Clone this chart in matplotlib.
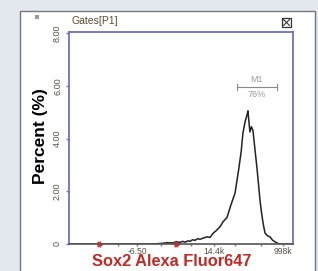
import numpy as np
import matplotlib.pyplot as plt
from matplotlib.patches import Rectangle

# histogram (channel 0-1024 on a biexponential display axis), percent of events
channel = [0, 380, 420, 450, 475, 490, 507, 520, 530, 545, 553, 565, 576, 588, 599,
           612, 631, 645, 658, 672, 690, 705, 722, 741, 759, 777, 787, 795, 805,
           814, 818, 823, 827, 834, 841, 850, 859, 866, 873, 880, 887, 896, 903,
           910, 919, 930, 942, 955, 965, 1024]
percent = [0, 0, 0.02, 0.05, 0.04, 0.09, 0.06, 0.1, 0.07, 0.12, 0.1, 0.16, 0.14, 0.2, 0.18,
           0.22, 0.27, 0.25, 0.4, 0.5, 0.65, 0.85, 1.0, 1.5, 1.93, 2.9, 3.5, 4.2, 4.64,
           4.9, 5.05, 4.6, 4.25, 4.45, 4.3, 3.6, 2.9, 2.3, 1.67, 1.2, 0.8, 0.42, 0.35,
           0.3, 0.27, 0.15, 0.08, 0.02, 0, 0]

xtick_pos = [311, 663, 980]
xtick_labels = ['-6.50', '14.4k', '998k']
ytick_pos = [0, 2, 4, 6, 8]
ytick_labels = ['0', '2.00', '4.00', '6.00', '8.00']
gate_marks = [142, 494]          # red markers on x axis
m1_range = (768, 950)            # M1 marker bar
m1_label = 'M1'
m1_pct = '76%'

fig = plt.figure(figsize=(3.18, 2.71), dpi=100)
fig.patch.set_facecolor('#e3e8ee')

# white panel
fig.patches.append(Rectangle((20 / 318, -0.1), 295 / 318, 1 - 11 / 271 + 0.1,
                             transform=fig.transFigure, facecolor='white',
                             edgecolor='#777777', lw=1.0, zorder=-5))
fig.patches.append(Rectangle((35 / 318, 1 - 19 / 271), 4 / 318, 4 / 271,
                             transform=fig.transFigure, facecolor='#999999', lw=0))
# close box
fig.patches.append(Rectangle((282 / 318, 1 - 27 / 271), 9 / 318, 9 / 271,
                             transform=fig.transFigure, facecolor='white',
                             edgecolor='#333333', lw=0.9))
fig.lines.append(plt.Line2D([283.5 / 318, 289.5 / 318], [1 - 25.5 / 271, 1 - 19.5 / 271],
                            transform=fig.transFigure, color='#333333', lw=0.8))
fig.lines.append(plt.Line2D([283.5 / 318, 289.5 / 318], [1 - 19.5 / 271, 1 - 25.5 / 271],
                            transform=fig.transFigure, color='#333333', lw=0.8))

ax = fig.add_axes([69 / 318, 1 - 244 / 271, 224 / 318, 212 / 271])
ax.set_zorder(2)
ax.set_facecolor('white')
ax.plot(channel, percent, color='#222222', lw=1.1)
ax.set_xlim(0, 1024)
ax.set_ylim(0, 8.04)

blue = '#6f6fc4'
for s in ['left', 'top', 'right']:
    ax.spines[s].set_color(blue)
    ax.spines[s].set_linewidth(1.3)
ax.spines['bottom'].set_color('#555555')
ax.spines['bottom'].set_linewidth(1.2)

tick_color = '#555544'
ax.set_yticks(ytick_pos)
ax.set_yticklabels(ytick_labels, rotation=90, va='center', fontsize=6.5,
                   family='Liberation Sans')
ax.set_xticks(xtick_pos)
ax.set_xticklabels(xtick_labels, fontsize=6.2, family='Liberation Sans')
ax.tick_params(axis='both', colors=blue, length=2, width=1, pad=1.5)
ax.tick_params(axis='x', labelcolor=tick_color, length=1.5, pad=0.6)
ax.tick_params(axis='y', labelcolor=tick_color, pad=3)
ax.set_xticks([224, 420, 560, 760, 880], minor=True)
ax.tick_params(axis='x', which='minor', colors=blue, length=1.5, width=1)

ax.plot(gate_marks, [0, 0], ls='none', marker='>', ms=3.5, color='#e03030', clip_on=False)
ax.plot(gate_marks, [0, 0], ls='none', marker='|', ms=5, mew=1, color='#e03030', clip_on=False)

# M1 marker
ax.plot(m1_range, [5.95, 5.95], color='#888888', lw=0.8)
ax.plot([m1_range[0]] * 2, [5.85, 6.05], color='#888888', lw=0.8)
ax.plot([m1_range[1]] * 2, [5.85, 6.05], color='#888888', lw=0.8)
mid = (m1_range[0] + m1_range[1]) / 2
ax.text(mid, 6.05, m1_label, ha='center', va='bottom', fontsize=6.5, color='#999999',
        family='Liberation Sans')
ax.text(mid, 5.85, m1_pct, ha='center', va='top', fontsize=6.5, color='#999999',
        family='Liberation Sans')

fig.text(72 / 318, 1 - 21 / 271, 'Gates[P1]', fontsize=7.5, color='#5a4a35',
         va='center', family='Liberation Sans')
fig.text(40 / 318, 1 - 136 / 271, 'Percent (%)', rotation=90, fontsize=12.5,
         fontweight='bold', ha='center', va='center', family='Liberation Sans')
fig.text(172 / 318, 1 - 254.5 / 271, 'Sox2 Alexa Fluor647', fontsize=11.8,
         fontweight='bold', color='#c02a26', ha='center', va='top',
         family='Liberation Sans')

fig.savefig('out.png', dpi=100, facecolor=fig.get_facecolor())
